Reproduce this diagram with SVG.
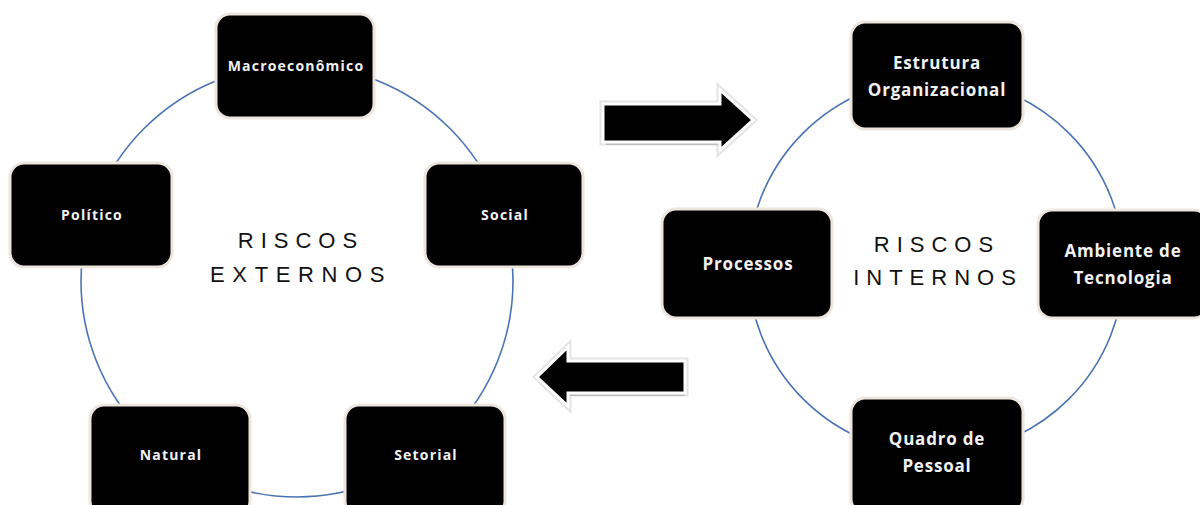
<svg xmlns="http://www.w3.org/2000/svg" width="1200" height="505" viewBox="0 0 1200 505">
<defs>
<style>
.ring{fill:none;stroke:#4a73b3;stroke-width:1.6}
.box{fill:#000;stroke:#ece6de;stroke-width:3}
.lbl{font-family:"Open Sans","DejaVu Sans",sans-serif;font-weight:700;fill:#f2f2f2;text-anchor:middle}
.sm{font-size:14px;letter-spacing:1.2px}
.lg{font-size:17px;letter-spacing:0.8px}
.title{font-family:"Liberation Sans",Arial,sans-serif;font-size:22px;fill:#111;letter-spacing:7px;text-anchor:middle}
.wide{letter-spacing:7.6px}
.halo{fill:#fff;stroke:#e4e4e4;stroke-width:7;stroke-linejoin:miter}
.arrow{fill:#000;stroke:#fff;stroke-width:3}
.shadow{fill:#bdbdbd}
</style>
</defs>
<rect width="1200" height="505" fill="#fff"/>
<g id="connectors">
<circle class="ring" cx="297" cy="281" r="216"/>
<circle class="ring" cx="936" cy="266" r="188"/>
<g id="arrow-right">
<polygon class="halo" points="603,104 720,104 720,90 753,120 720,150 720,142 603,142"/>
<rect class="shadow" x="606" y="142" width="114" height="3"/>
<polygon class="arrow" points="603,104 720,104 720,90 753,120 720,150 720,142 603,142"/>
</g>
<g id="arrow-left">
<polygon class="halo" points="685,361 568,361 568,347 537,377 568,406 568,393 685,393"/>
<rect class="shadow" x="568" y="393" width="117" height="3"/>
<polygon class="arrow" points="685,361 568,361 568,347 537,377 568,406 568,393 685,393"/>
</g>
</g>
<g id="riscos-externos">
<text class="title" x="301" y="248">RISCOS</text>
<text class="title wide" x="301" y="282">EXTERNOS</text>
</g>
<g id="riscos-internos">
<text class="title" x="937" y="252">RISCOS</text>
<text class="title" x="938" y="285">INTERNOS</text>
</g>
<g id="macroeconomico">
<rect class="box" x="216" y="14" width="158" height="104" rx="14"/>
<text class="lbl sm" x="296" y="71">Macroeconômico</text>
</g>
<g id="politico">
<rect class="box" x="10" y="163" width="162" height="104" rx="14"/>
<text class="lbl sm" x="92" y="220">Político</text>
</g>
<g id="social">
<rect class="box" x="425" y="163" width="158" height="104" rx="14"/>
<text class="lbl sm" x="505" y="220">Social</text>
</g>
<g id="natural">
<rect class="box" x="90" y="405" width="160" height="110" rx="14"/>
<text class="lbl sm" x="171" y="460">Natural</text>
</g>
<g id="setorial">
<rect class="box" x="345" y="405" width="160" height="110" rx="14"/>
<text class="lbl sm" x="426" y="460">Setorial</text>
</g>
<g id="estrutura">
<rect class="box" x="851" y="22" width="172" height="107" rx="14"/>
<text class="lbl lg" x="937" y="69">Estrutura</text>
<text class="lbl lg" x="937" y="96">Organizacional</text>
</g>
<g id="processos">
<rect class="box" x="662" y="209" width="170" height="109" rx="14"/>
<text class="lbl lg" x="748" y="270">Processos</text>
</g>
<g id="ambiente">
<rect class="box" x="1038" y="210" width="170" height="108" rx="14"/>
<text class="lbl lg" x="1123" y="257">Ambiente de</text>
<text class="lbl lg" x="1123" y="284">Tecnologia</text>
</g>
<g id="quadro">
<rect class="box" x="851" y="398" width="172" height="115" rx="14"/>
<text class="lbl lg" x="937" y="445">Quadro de</text>
<text class="lbl lg" x="937" y="472">Pessoal</text>
</g>
</svg>
